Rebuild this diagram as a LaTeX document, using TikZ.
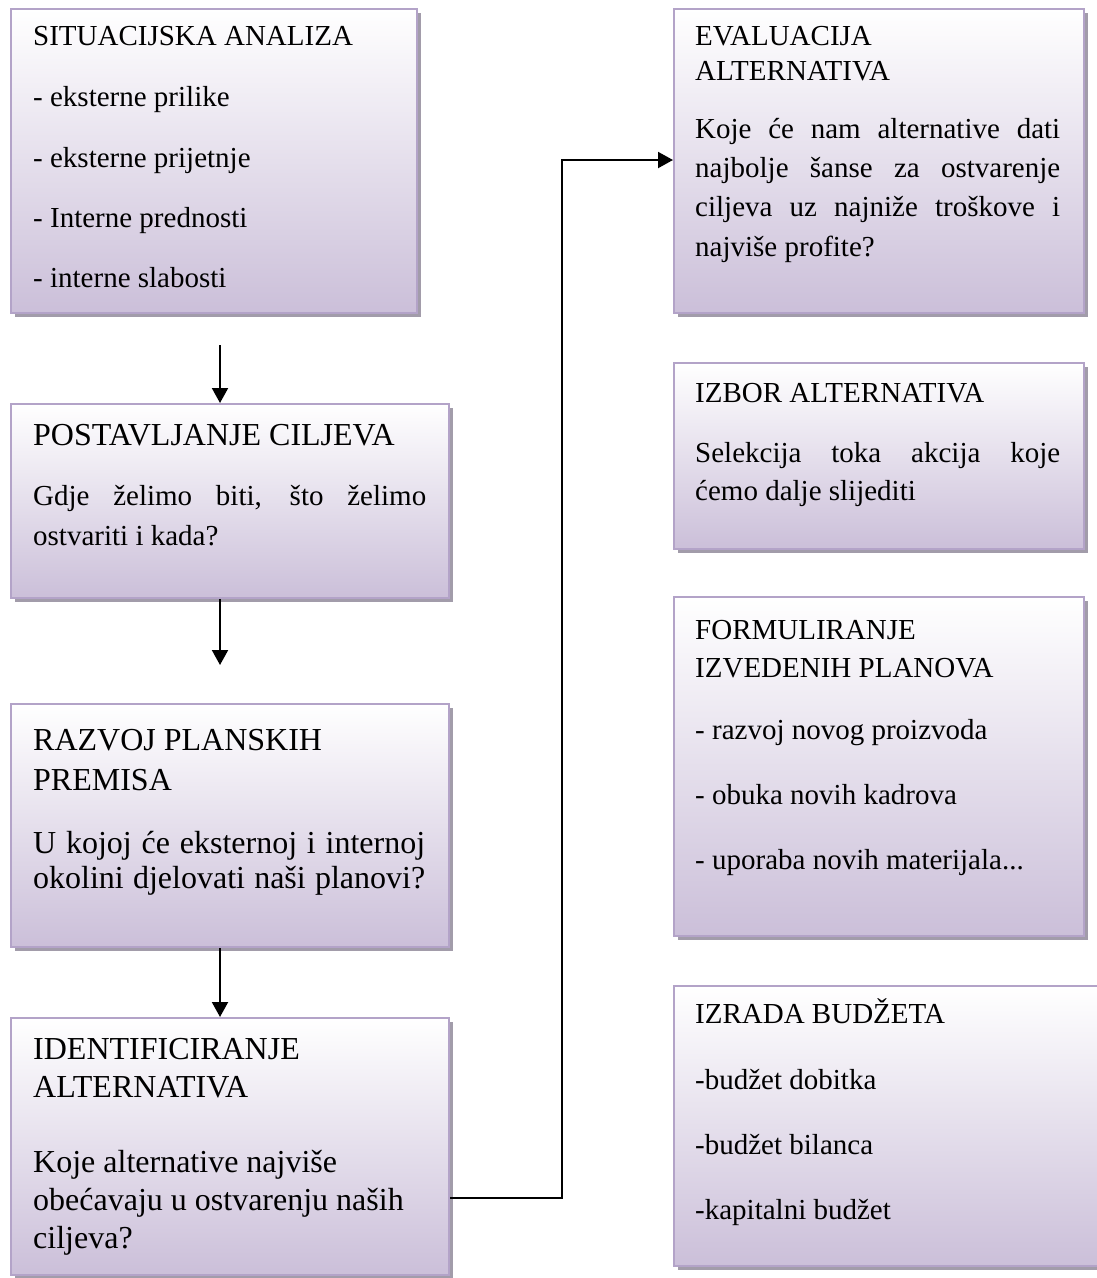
\documentclass[tikz,border=0pt]{standalone}
\usepackage{fontspec}
\setmainfont{Liberation Serif}
\usetikzlibrary{arrows.meta,shadows}
\definecolor{lavbot}{HTML}{CBBFD9}
\definecolor{lavline}{HTML}{B3A3C8}
\definecolor{shadowc}{HTML}{A29CAA}
\begin{document}
\begin{tikzpicture}[x=1pt,y=-1pt,
  box/.style={draw=lavline, line width=2pt, top color=white, bottom color=lavbot,
    anchor=north west, inner sep=0pt,
    drop shadow={shadow xshift=4pt, shadow yshift=-4pt, fill=shadowc, opacity=1}},
  txt/.style={anchor=base west, inner sep=0pt, font=\fontsize{29}{34}\selectfont},
  txtl/.style={anchor=base west, inner sep=0pt, font=\fontsize{32}{38}\selectfont},
  arr/.style={line width=2pt, -{Triangle[length=15pt,width=16pt]}}]
\useasboundingbox (0,0) rectangle (1096,1278);

% left column boxes
\node[box, minimum width=406pt, minimum height=304pt] (b1) at (10,8) {};
\node[box, minimum width=438pt, minimum height=194pt] (b2) at (10,403) {};
\node[box, minimum width=438pt, minimum height=243pt] (b3) at (10,703) {};
\node[box, minimum width=438pt, minimum height=257pt] (b4) at (10,1017) {};
% right column boxes
\node[box, minimum width=410pt, minimum height=304pt] (b5) at (673,8) {};
\node[box, minimum width=410pt, minimum height=186pt] (b6) at (673,362) {};
\node[box, minimum width=410pt, minimum height=339pt] (b7) at (673,596) {};
\node[box, minimum width=440pt, minimum height=280pt] (b8) at (673,985) {};

% box 1
\node[txt] (t1a) at (33,45) {SITUACIJSKA ANALIZA};
\node[txt] (t1b) at (33,106) {- eksterne prilike};
\node[txt] (t1c) at (33,167) {- eksterne prijetnje};
\node[txt] (t1d) at (33,227) {- Interne prednosti};
\node[txt] (t1e) at (33,287) {- interne slabosti};
% box 2
\node[txtl] (t2a) at (33,445) {POSTAVLJANJE CILJEVA};
\node[txt] (t2b) at (33,505) {\makebox[393pt][s]{Gdje želimo biti, što želimo}};
\node[txt] (t2c) at (33,545) {ostvariti i kada?};
% box 3
\node[txtl] (t3a) at (33,750) {RAZVOJ PLANSKIH};
\node[txtl] (t3b) at (33,790) {PREMISA};
\node[txtl] (t3c) at (33,853) {\makebox[392pt][s]{U kojoj će eksternoj i internoj}};
\node[txtl] (t3d) at (33,888) {\makebox[392pt][s]{okolini djelovati naši planovi?}};
% box 4
\node[txtl] (t4a) at (33,1059) {IDENTIFICIRANJE};
\node[txtl] (t4b) at (33,1097) {ALTERNATIVA};
\node[txtl] (t4c) at (33,1172) {Koje alternative najviše};
\node[txtl] (t4d) at (33,1210) {obećavaju u ostvarenju naših};
\node[txtl] (t4e) at (33,1248) {ciljeva?};
% box 5
\node[txt] (t5a) at (695,45) {EVALUACIJA};
\node[txt] (t5b) at (695,80) {ALTERNATIVA};
\node[txt] (t5c) at (695,138) {\makebox[365pt][s]{Koje će nam alternative dati}};
\node[txt] (t5d) at (695,177) {\makebox[365pt][s]{najbolje šanse za ostvarenje}};
\node[txt] (t5e) at (695,216) {\makebox[365pt][s]{ciljeva uz najniže troškove i}};
\node[txt] (t5f) at (695,256) {najviše profite?};
% box 6
\node[txt] (t6a) at (695,402) {IZBOR ALTERNATIVA};
\node[txt] (t6b) at (695,462) {\makebox[365pt][s]{Selekcija toka akcija koje}};
\node[txt] (t6c) at (695,500) {ćemo dalje slijediti};
% box 7
\node[txt] (t7a) at (695,639) {FORMULIRANJE};
\node[txt] (t7b) at (695,677) {IZVEDENIH PLANOVA};
\node[txt] (t7c) at (695,739) {- razvoj novog proizvoda};
\node[txt] (t7d) at (695,804) {- obuka novih kadrova};
\node[txt] (t7e) at (695,869) {- uporaba novih materijala...};
% box 8
\node[txt] (t8a) at (695,1023) {IZRADA BUDŽETA};
\node[txt] (t8b) at (695,1089) {-budžet dobitka};
\node[txt] (t8c) at (695,1154) {-budžet bilanca};
\node[txt] (t8d) at (695,1219) {-kapitalni budžet};

% connectors
\coordinate (p1) at (220,345);
\coordinate (p2) at (220,665);
\coordinate (e1) at (562,1198);
\coordinate (e2) at (562,160);
\draw[arr] (p1) -- (p1 |- b2.north);
\draw[arr] (b2.south -| p2) -- (p2);
\draw[arr] (b3.south -| p1) -- (b4.north -| p1);
\draw[arr] (e1 -| b4.east) -- (e1) -- (e2) -- (e2 -| b5.west);
\end{tikzpicture}
\end{document}
